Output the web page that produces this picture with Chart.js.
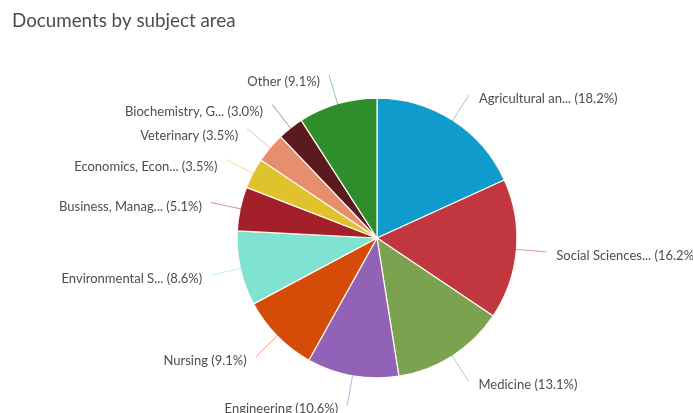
<!DOCTYPE html>
<html>
<head>
<meta charset="utf-8">
<script src="https://cdn.jsdelivr.net/npm/chart.js@4/dist/chart.umd.min.js"></script>
<style>
  html, body { margin: 0; padding: 0; background: #ffffff; }
  #wrap { position: relative; width: 693px; height: 413px; }
</style>
</head>
<body>
<div id="wrap"><canvas id="c" width="693" height="413"></canvas></div>
<script>
const chartTitle = "Documents by subject area";
const categories = [
  "Agricultural an...",
  "Social Sciences...",
  "Medicine",
  "Engineering",
  "Nursing",
  "Environmental S...",
  "Business, Manag...",
  "Economics, Econ...",
  "Veterinary",
  "Biochemistry, G...",
  "Other"
];
const percentages = [18.2, 16.2, 13.1, 10.6, 9.1, 8.6, 5.1, 3.5, 3.5, 3.0, 9.1];
const sliceColors = [
  "#109bcd", "#c1363f", "#7ba24e", "#9162b5", "#d54b08", "#80e2d1",
  "#a3202b", "#dfc22c", "#e78e6e", "#5b1a1f", "#2f8e2c"
];

const labelPlugin = {
  id: "pieLabels",
  afterDatasetsDraw(chart) {
    const ctx = chart.ctx;
    const meta = chart.getDatasetMeta(0);
    ctx.save();
    meta.data.forEach((arc, i) => {
      const p = arc.getProps(["x", "y", "startAngle", "endAngle", "outerRadius"], true);
      const mid = (p.startAngle + p.endAngle) / 2;
      const c = Math.cos(mid), s = Math.sin(mid);
      const x0 = p.x + c * (p.outerRadius - 1), y0 = p.y + s * (p.outerRadius - 1);
      const R = p.outerRadius + 30;
      const x1 = p.x + c * R, y1 = p.y + s * R;
      ctx.strokeStyle = sliceColors[i];
      ctx.globalAlpha = 0.5;
      ctx.lineWidth = 1;
      ctx.beginPath();
      ctx.moveTo(x0, y0);
      ctx.lineTo(x1, y1);
      ctx.stroke();
      ctx.globalAlpha = 1;
      const right = c >= 0;
      ctx.font = "13px Lato";
      ctx.fillStyle = "#4d4d4d";
      ctx.textBaseline = "middle";
      ctx.textAlign = right ? "left" : "right";
      const tx = right ? x1 + 10 : x1 - 9;
      const dy = s < -0.3 && c < 0 ? 7 : 4;
      ctx.fillText(categories[i] + " (" + percentages[i].toFixed(1) + "%)", tx, y1 + dy);
    });
    ctx.font = "18.8px Lato";
    ctx.fillStyle = "#4d4d4d";
    ctx.textAlign = "left";
    ctx.textBaseline = "alphabetic";
    ctx.fillText(chartTitle, 12, 27);
    ctx.restore();
  }
};

new Chart(document.getElementById("c"), {
  type: "pie",
  data: {
    labels: categories,
    datasets: [{
      data: percentages,
      backgroundColor: sliceColors,
      borderColor: "#fffaf2",
      borderWidth: 1.2
    }]
  },
  options: {
    responsive: false,
    animation: false,
    layout: { padding: { left: 236.5, right: 175.5, top: 97.5, bottom: 34.5 } },
    plugins: {
      legend: { display: false },
      title: { display: false },
      tooltip: { enabled: false }
    }
  },
  plugins: [labelPlugin]
});
</script>
</body>
</html>
